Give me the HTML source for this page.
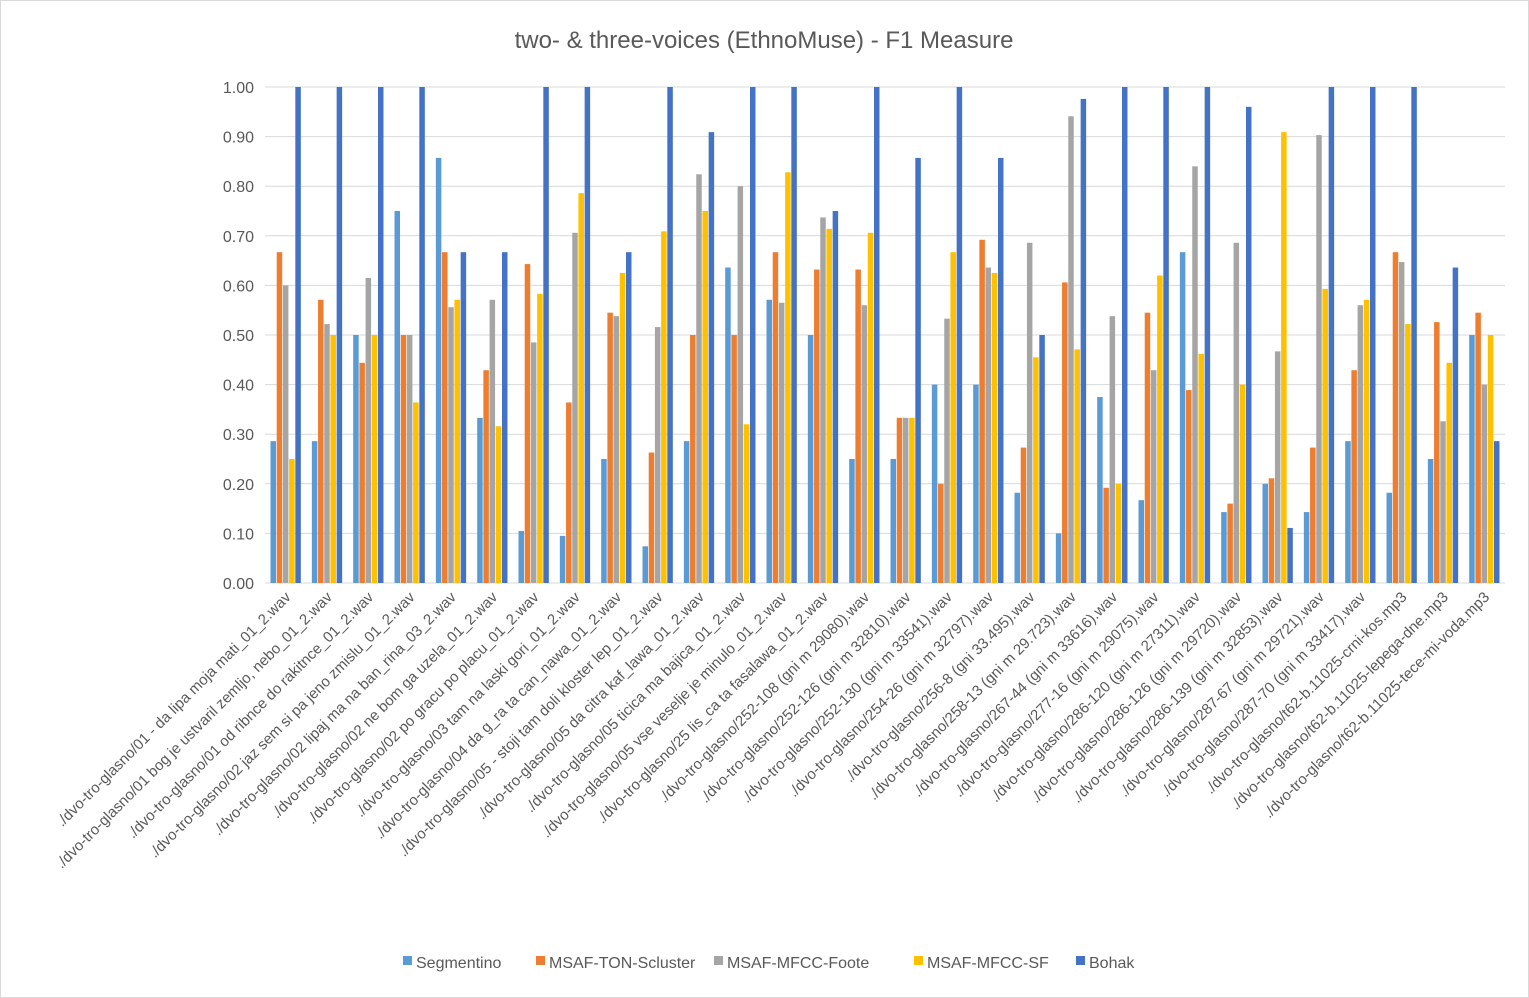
<!DOCTYPE html>
<html><head><meta charset="utf-8">
<style>
html,body{margin:0;padding:0;background:#fff;}
svg{display:block;font-family:"Liberation Sans",sans-serif;}
</style></head>
<body>
<svg id="chart" width="1529" height="998" viewBox="0 0 1529 998" xmlns="http://www.w3.org/2000/svg">
<rect x="0.5" y="0.5" width="1528" height="997" fill="#fff" stroke="#d9d9d9"/>
<text x="764" y="48" text-anchor="middle" font-size="24" fill="#595959">two- &amp; three-voices (EthnoMuse) - F1 Measure</text>
<g id="grid"></g><g id="bars"></g><g id="yticks"></g><g id="xlabels"></g><g id="legend"></g>
</svg>
<script>
const categories = [
"./dvo-tro-glasno/01 - da lipa moja mati_01_2.wav",
"./dvo-tro-glasno/01 bog je ustvaril zemljo, nebo_01_2.wav",
"./dvo-tro-glasno/01 od ribnce do rakitnce_01_2.wav",
"./dvo-tro-glasno/02 jaz sem si pa jeno zmislu_01_2.wav",
"./dvo-tro-glasno/02 lipaj ma na ban_rina_03_2.wav",
"./dvo-tro-glasno/02 ne bom ga uzela_01_2.wav",
"./dvo-tro-glasno/02 po gracu po placu_01_2.wav",
"./dvo-tro-glasno/03 tam na laski gori_01_2.wav",
"./dvo-tro-glasno/04 da g_ra ta can_nawa_01_2.wav",
"./dvo-tro-glasno/05 - stoji tam doli kloster lep_01_2.wav",
"./dvo-tro-glasno/05 da citra kaf_lawa_01_2.wav",
"./dvo-tro-glasno/05 ticica ma bajica_01_2.wav",
"./dvo-tro-glasno/05 vse veselje je minulo_01_2.wav",
"./dvo-tro-glasno/25 lis_ca ta fasalawa_01_2.wav",
"./dvo-tro-glasno/252-108 (gni m 29080).wav",
"./dvo-tro-glasno/252-126 (gni m 32810).wav",
"./dvo-tro-glasno/252-130 (gni m 33541).wav",
"./dvo-tro-glasno/254-26 (gni m 32797).wav",
"./dvo-tro-glasno/256-8 (gni 33.495).wav",
"./dvo-tro-glasno/258-13 (gni m 29.723).wav",
"./dvo-tro-glasno/267-44 (gni m 33616).wav",
"./dvo-tro-glasno/277-16 (gni m 29075).wav",
"./dvo-tro-glasno/286-120 (gni m 27311).wav",
"./dvo-tro-glasno/286-126 (gni m 29720).wav",
"./dvo-tro-glasno/286-139 (gni m 32853).wav",
"./dvo-tro-glasno/287-67 (gni m 29721).wav",
"./dvo-tro-glasno/287-70 (gni m 33417).wav",
"./dvo-tro-glasno/t62-b.11025-crni-kos.mp3",
"./dvo-tro-glasno/t62-b.11025-lepega-dne.mp3",
"./dvo-tro-glasno/t62-b.11025-tece-mi-voda.mp3"];
const seriesNames = ["Segmentino","MSAF-TON-Scluster","MSAF-MFCC-Foote","MSAF-MFCC-SF","Bohak"];
const segmentino = [0.286,0.286,0.5,0.75,0.857,0.333,0.105,0.095,0.25,0.074,0.286,0.636,0.571,0.5,0.25,0.25,0.4,0.4,0.182,0.1,0.375,0.167,0.667,0.143,0.2,0.143,0.286,0.182,0.25,0.5];
const tonScluster = [0.667,0.571,0.444,0.5,0.667,0.429,0.643,0.364,0.545,0.263,0.5,0.5,0.667,0.632,0.632,0.333,0.2,0.692,0.273,0.606,0.192,0.545,0.389,0.16,0.211,0.273,0.429,0.667,0.526,0.545];
const mfccFoote = [0.6,0.522,0.615,0.5,0.556,0.571,0.485,0.706,0.538,0.516,0.824,0.8,0.565,0.737,0.56,0.333,0.533,0.636,0.686,0.941,0.538,0.429,0.84,0.686,0.467,0.903,0.56,0.647,0.326,0.4];
const mfccSF = [0.25,0.5,0.5,0.364,0.571,0.316,0.583,0.786,0.625,0.709,0.75,0.32,0.828,0.714,0.706,0.333,0.667,0.625,0.455,0.471,0.2,0.62,0.462,0.4,0.909,0.593,0.571,0.522,0.444,0.5];
const bohak = [1,1,1,1,0.667,0.667,1,1,0.667,1,0.909,1,1,0.75,1,0.857,1,0.857,0.5,0.976,1,1,1,0.96,0.111,1,1,1,0.636,0.286];
const yTicks = ["0.00","0.10","0.20","0.30","0.40","0.50","0.60","0.70","0.80","0.90","1.00"];
const colors = ["#5B9BD5","#ED7D31","#A5A5A5","#FFC000","#4472C4"];
const series = [segmentino,tonScluster,mfccFoote,mfccSF,bohak];
const NS="http://www.w3.org/2000/svg";
const X0=265,X1=1505,Y0=583,Y1=87;
const band=(X1-X0)/categories.length;
const yScale=v=>Y0-(v/1)*(Y0-Y1);
const xCenter=i=>X0+(i+0.5)*band;
function mk(tag,attrs,parent){const e=document.createElementNS(NS,tag);for(const k in attrs)e.setAttribute(k,attrs[k]);parent.appendChild(e);return e;}
const grid=document.getElementById('grid'),yt=document.getElementById('yticks');
yTicks.forEach(t=>{const y=yScale(parseFloat(t));
 const l=mk('line',{x1:X0,x2:X1,y1:y,y2:y,stroke:'#d9d9d9','stroke-width':1},grid);
 
 
 const tx=mk('text',{x:254,y:y+6,'text-anchor':'end','font-size':16,fill:'#595959'},yt);
 tx.textContent=t;
 
 
});
const bars=document.getElementById('bars');
const bw=5.5,step=6.2;
categories.forEach((c,i)=>{series.forEach((s,j)=>{
 const x=xCenter(i)+(j-2)*step-bw/2;const y=yScale(s[i]);
 const r=mk('rect',{x:x,y:y,width:bw,height:Y0-y,fill:colors[j]},bars);
 
 
});});
const xl=document.getElementById('xlabels');
categories.forEach((c,i)=>{const x=xCenter(i)+6,y=598;
 const t=mk('text',{x:x,y:y,'text-anchor':'end','font-size':15,fill:'#595959',transform:`rotate(-45 ${x} ${y})`},xl);
 t.textContent=c;
 
 
});
const lg=document.getElementById('legend');
const lx=[403,536,714,914,1076];
seriesNames.forEach((n,j)=>{
 const g=mk('g',{},lg);
 
 
 mk('rect',{x:lx[j],y:956,width:9,height:9,fill:colors[j]},g);
 const t=mk('text',{x:lx[j]+13,y:968,'font-size':16,fill:'#595959'},g);
 t.textContent=n;
});
</script>
</body></html>
